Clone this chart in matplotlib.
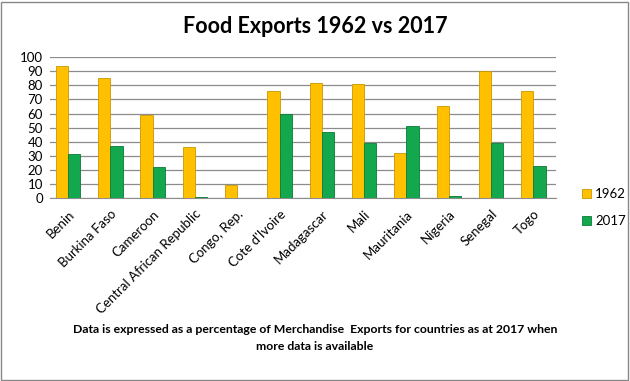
import matplotlib.pyplot as plt
import numpy as np
from matplotlib.patches import Rectangle

plt.rcParams['font.family'] = ['Lato', 'DejaVu Sans']

countries = ["Benin", "Burkina Faso", "Cameroon", "Central African Republic",
             "Congo, Rep.", "Cote d'Ivoire", "Madagascar", "Mali", "Mauritania",
             "Nigeria", "Senegal", "Togo"]
exports_1962 = [94, 85, 59, 36, 9.5, 76, 82, 81, 32, 65, 90, 76]
exports_2017 = [31, 37, 22, 0.8, 0, 60, 47, 39, 51, 1.5, 39, 23]

fig = plt.figure(figsize=(6.3, 3.81), dpi=100)
fig.patches.append(Rectangle((0.002, 0.003), 0.995, 0.993, transform=fig.transFigure,
                             fill=False, edgecolor="#888888", linewidth=1))
ax = fig.add_axes([0.079, 0.480, 0.804, 0.370])

x = np.arange(len(countries))
w = 0.29
ax.bar(x - w / 2, exports_1962, w, color="#FFC000", edgecolor="#C99700",
       linewidth=0.6, label="1962", zorder=3)
ax.bar(x + w / 2, exports_2017, w, color="#13A84E", edgecolor="#0B7A36",
       linewidth=0.6, label="2017", zorder=3)

ax.set_xlim(-0.43, len(countries) - 0.46)
ax.set_ylim(0, 100)
ax.set_yticks(range(0, 101, 10))
ax.grid(axis="y", color="#8c8c8c", linewidth=0.9, zorder=0)
for s in ["top", "right", "left"]:
    ax.spines[s].set_visible(False)
ax.spines["bottom"].set_color("#8c8c8c")
ax.tick_params(axis="y", length=0, labelsize=9.5, pad=5)
ax.tick_params(axis="x", length=0, labelsize=9.5, pad=7)
ax.set_xticks(x)
ax.set_xticklabels(countries, rotation=45, ha="right", rotation_mode="anchor")

fig.text(0.5, 0.93, "Food Exports 1962 vs 2017", ha="center", va="center",
         fontsize=15.5, fontweight="bold")
fig.legend(loc="center left", bbox_to_anchor=(0.905, 0.455), frameon=False,
           fontsize=9.5, handlelength=0.7, handleheight=0.7, handletextpad=0.3,
           labelspacing=1.1)
fig.text(0.5, 0.113, "Data is expressed as a percentage of Merchandise  Exports for countries as at 2017 when\nmore data is available",
         ha="center", va="center", fontsize=8.8, fontweight="bold", linespacing=1.6)

fig.savefig("out.png", dpi=100)
